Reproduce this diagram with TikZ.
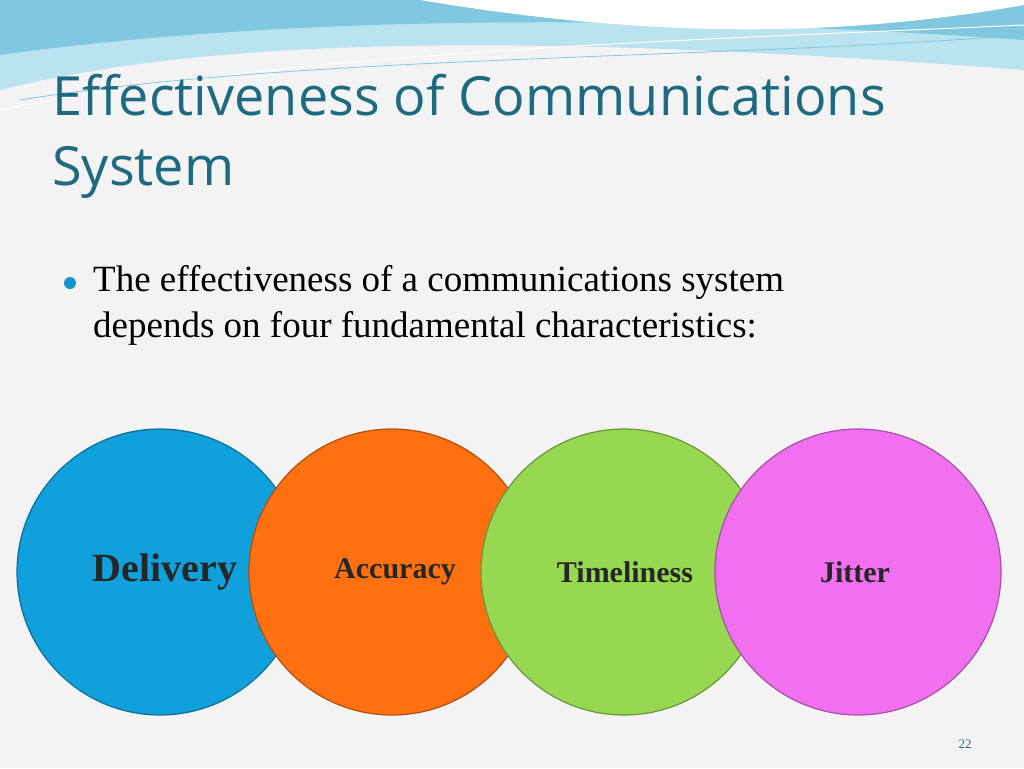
\documentclass[tikz,border=0pt]{standalone}
\usepackage{fontspec}
\setmainfont{Liberation Serif}
\newfontfamily\titlefont{Open Sans}
\definecolor{teal1}{HTML}{1E6A80}
\definecolor{bg}{HTML}{F3F3F3}
\definecolor{wave1}{HTML}{7FC8DF}
\definecolor{wave2}{HTML}{B9E3EE}
\definecolor{cblue}{HTML}{10A0DC}
\definecolor{corange}{HTML}{FF7010}
\definecolor{cgreen}{HTML}{96D850}
\definecolor{cpink}{HTML}{F070F0}
\tikzset{
  circ/.style={circle, minimum size=286pt, inner sep=0pt, draw=#1!70!black, line width=1.2pt, fill=#1},
  lab/.style={font=\bfseries\fontsize{30}{34}\selectfont, text=black!85},
}
\begin{document}
\begin{tikzpicture}[x=1pt,y=-1pt]
\fill[bg] (0,0) rectangle (1024,768);
\useasboundingbox (0,0) rectangle (1024,768);
% top waves
\fill[wave2] (0,0) -- (0,90) .. controls (200,40) and (500,30) .. (1024,70) -- (1024,0) -- cycle;
\fill[wave1] (0,0) -- (0,55) .. controls (250,20) and (600,10) .. (1024,40) -- (1024,0) -- cycle;
\fill[white] (420,0) .. controls (600,30) and (800,45) .. (1024,5) -- (1024,0) -- cycle;
\draw[white, line width=1pt] (0,110) .. controls (300,50) and (700,40) .. (1024,25);
\draw[wave1, line width=0.8pt] (20,100) .. controls (300,55) and (700,60) .. (1024,35);
% title
\node[anchor=west, text=teal1, font=\titlefont\fontsize{54}{60}\selectfont, inner sep=0pt] (title) at (52,95) {Effectiveness of Communications};
\node[anchor=west, text=teal1, font=\titlefont\fontsize{54}{60}\selectfont, inner sep=0pt] (title2) at (52,172) {System};
% bullet
\fill[cblue!80!teal1] (70,283) circle (6pt);
\node[anchor=north west, align=left, font=\fontsize{37}{46}\selectfont, inner sep=0pt] (body) at (93,265) {The effectiveness of a communications system\\depends on four fundamental characteristics:};
% circles
\node[circ=cblue] (d) at (160,572) {};
\node[circ=corange] (a) at (392,572) {};
\node[circ=cgreen] (t) at (624,572) {};
\node[circ=cpink] (j) at (858,572) {};
\node[lab, font=\bfseries\fontsize{40}{44}\selectfont] at (165,572) {Delivery};
\node[lab] at (395,572) {Accuracy};
\node[lab] at (625,572) {Timeliness};
\node[lab] at (855,572) {Jitter};
\node[text=teal1, font=\fontsize{13}{14}\selectfont] (pg) at (965,744) {22};
\end{tikzpicture}
\end{document}
